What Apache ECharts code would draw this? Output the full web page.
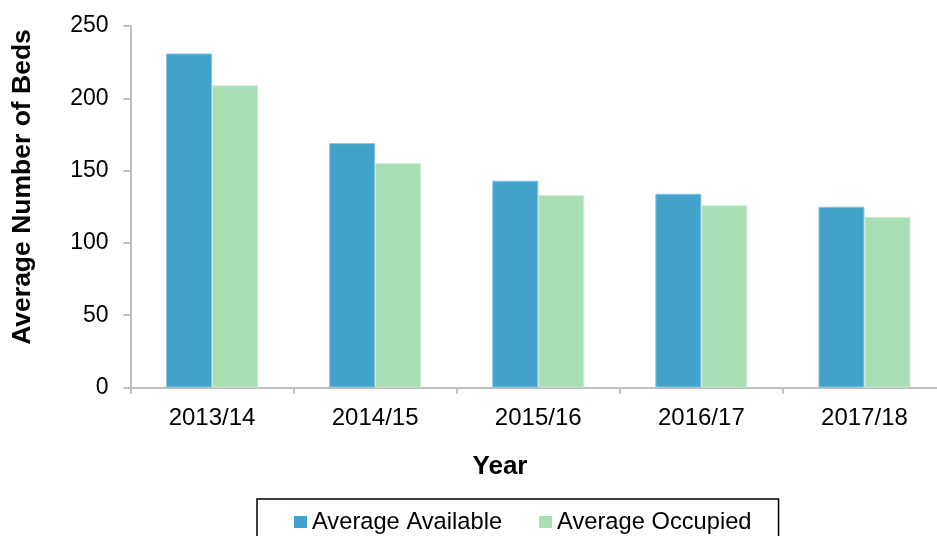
<!DOCTYPE html>
<html>
<head>
<meta charset="utf-8">
<script src="https://cdn.jsdelivr.net/npm/echarts@6/dist/echarts.min.js"></script>
<style>
  html, body { margin: 0; padding: 0; background: #fff; overflow: hidden; }
  /* canvas is a little wider than the window so the plot area runs past the right edge */
  #chart { width: 946px; height: 536px; }
</style>
</head>
<body>
<div id="chart"></div>
<script>
// Average bed numbers per financial year
const years = ['2013/14', '2014/15', '2015/16', '2016/17', '2017/18'];
const averageAvailable = [231, 169, 143, 134, 125];
const averageOccupied = [209, 155, 133, 126, 118];
const yTicks = { min: 0, max: 250, interval: 50 };

const FONT = "'Liberation Sans', Arial, sans-serif";
const AXIS_GREY = '#BFBFBF';

const chart = echarts.init(document.getElementById('chart'), null, { renderer: 'canvas' });

chart.setOption({
  animation: false,
  backgroundColor: '#ffffff',
  textStyle: { fontFamily: FONT, color: '#000' },
  grid: { left: 130.5, top: 26, right: 0, bottom: 148.5, containLabel: false },
  xAxis: {
    type: 'category',
    data: years,
    boundaryGap: true,
    axisLine: { show: true, lineStyle: { color: AXIS_GREY, width: 2 } },
    axisTick: { show: true, length: 6, inside: false, lineStyle: { color: AXIS_GREY, width: 2 } },
    axisLabel: { margin: 19, fontSize: 24, fontFamily: FONT, color: '#000' },
    splitLine: { show: false }
  },
  yAxis: {
    type: 'value',
    min: yTicks.min,
    max: yTicks.max,
    interval: yTicks.interval,
    axisLine: { show: true, lineStyle: { color: AXIS_GREY, width: 2 } },
    axisTick: { show: true, length: 7, inside: false, lineStyle: { color: AXIS_GREY, width: 2 } },
    axisLabel: { margin: 22, fontSize: 23, fontFamily: FONT, color: '#000' },
    splitLine: { show: false }
  },
  legend: {
    left: 257,
    top: 499,
    padding: [11, 27, 24, 37],
    itemGap: 37,
    itemWidth: 13,
    itemHeight: 12,
    icon: 'rect',
    itemStyle: { borderWidth: 0 },
    borderColor: '#000',
    borderWidth: 1.5,
    textStyle: { fontSize: 23.7, fontFamily: FONT, color: '#000' },
    data: ['Average Available', 'Average Occupied']
  },
  graphic: [
    {
      type: 'text',
      x: 23,
      y: 187,
      rotation: Math.PI / 2,
      style: {
        text: 'Average Number of Beds',
        font: "bold 26.5px 'Liberation Sans', Arial, sans-serif",
        fill: '#000',
        align: 'center',
        verticalAlign: 'middle'
      }
    },
    {
      type: 'text',
      x: 500,
      y: 467,
      style: {
        text: 'Year',
        font: "bold 26px 'Liberation Sans', Arial, sans-serif",
        fill: '#000',
        align: 'center',
        verticalAlign: 'middle'
      }
    }
  ],
  series: [
    {
      name: 'Average Available',
      type: 'bar',
      data: averageAvailable,
      barWidth: 46,
      barGap: '0%',
      itemStyle: { color: '#43A2CA', borderColor: '#86C4DF', borderWidth: 1 }
    },
    {
      name: 'Average Occupied',
      type: 'bar',
      data: averageOccupied,
      barWidth: 46,
      barGap: '0%',
      itemStyle: { color: '#A8DDB5', borderColor: '#C9EBD1', borderWidth: 1 }
    }
  ]
});
</script>
</body>
</html>
